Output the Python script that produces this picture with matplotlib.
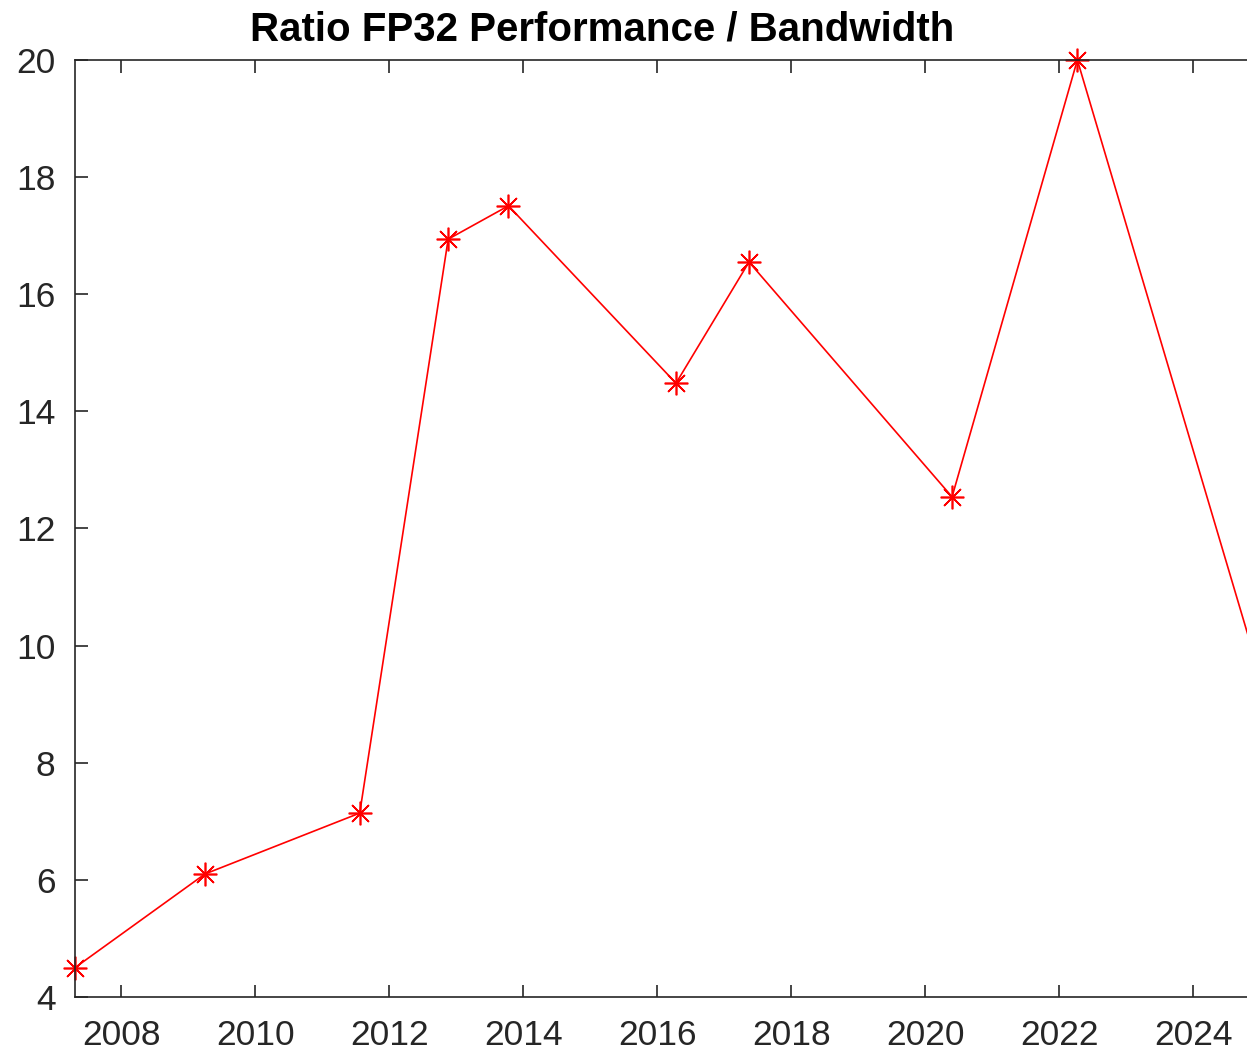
import matplotlib.pyplot as plt
from matplotlib import rcParams

rcParams["font.family"] = ["Liberation Sans", "DejaVu Sans"]

# Year of release and FP32 perf / bandwidth ratio
years = [2007.31, 2009.25, 2011.56, 2012.88, 2013.78, 2016.28, 2017.37, 2020.40, 2022.27, 2025.20]
ratio = [4.50, 6.10, 7.14, 16.94, 17.51, 14.48, 16.55, 12.54, 20.0, 8.70]

x_ticks = [2008, 2010, 2012, 2014, 2016, 2018, 2020, 2022, 2024]
y_ticks = [4, 6, 8, 10, 12, 14, 16, 18, 20]

fig = plt.figure(figsize=(12.47, 10.54), dpi=100)
# axes run past the right edge of the picture, like the cropped original
ax = fig.add_axes([0.0601, 0.0541, 0.9613, 0.8890])

ax.plot(years, ratio, color="red", linewidth=1.2, marker=(8, 2, 0),
        markersize=17, markeredgewidth=1.2, clip_on=False)

ax.set_xlim(years[0], years[-1])
ax.set_ylim(4, 20)
ax.set_xticks(x_ticks)
ax.set_yticks(y_ticks)

axis_col = "#262626"
for s in ax.spines.values():
    s.set_color(axis_col)
    s.set_linewidth(1.2)
ax.tick_params(direction="in", length=9, width=1.2, color=axis_col,
               labelcolor=axis_col, labelsize=25.5, top=True, right=True)
ax.tick_params(axis="x", pad=16)
ax.tick_params(axis="y", pad=14)

fig.text(0.483, 0.972, "Ratio FP32 Performance / Bandwidth", ha="center",
         va="center", fontsize=29, fontweight="bold")

fig.savefig("out.png", dpi=100)
